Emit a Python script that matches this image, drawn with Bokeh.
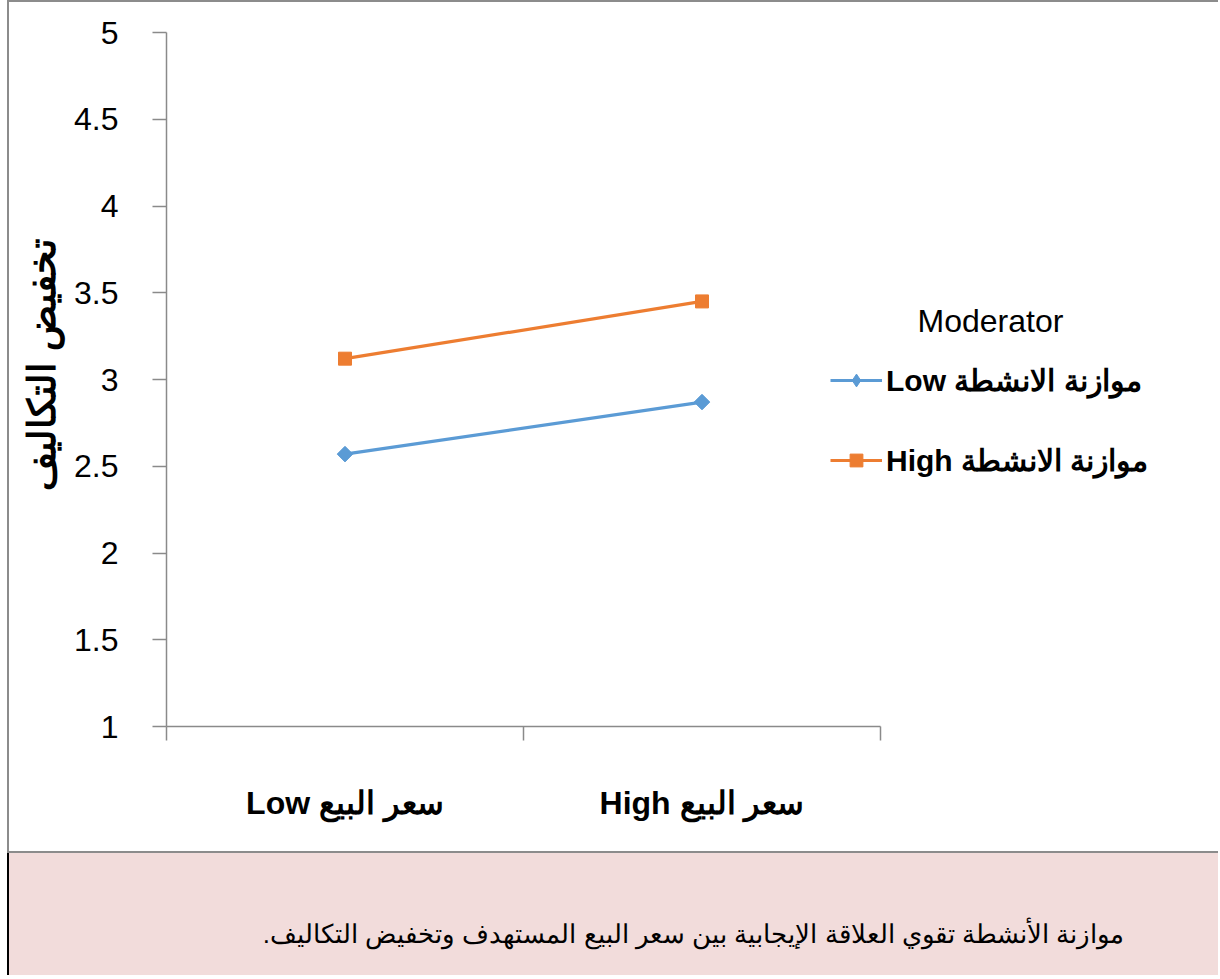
from math import pi

from bokeh.plotting import figure
from bokeh.layouts import column
from bokeh.models import (Range1d, FixedTicker, LinearAxis, Label, Legend, LegendItem)
from bokeh.embed import file_html
from bokeh.resources import INLINE

# --- data -------------------------------------------------------------
price_levels = ["سعر البيع Low", "سعر البيع High"]
series_names = ["موازنة الانشطة Low", "موازنة الانشطة High"]
low_activity = [2.57, 2.87]
high_activity = [3.12, 3.45]
y_ticks = [1, 1.5, 2, 2.5, 3, 3.5, 4, 4.5, 5]
y_tick_labels = ["1", "1.5", "2", "2.5", "3", "3.5", "4", "4.5", "5"]
y_title = "تخفيض التكاليف"
legend_title = "Moderator"
caption = "موازنة الأنشطة تقوي العلاقة الإيجابية بين سعر البيع المستهدف وتخفيض التكاليف."

BLUE = "#5B9BD5"
ORANGE = "#ED7D31"
AXIS_GREY = "#8a8a8a"
BORDER_GREY = "#8c8c8c"
PINK = "#F2DCDB"
FONT = "Liberation Sans"

RLE, PDF = "\u202B", "\u202C"   # right-to-left embedding for Arabic strings


def rtl(s):
    return RLE + s + PDF


# --- page geometry (pixels) ---------------------------------------------
W, H = 1220, 979
OX, OY = 9, 2                 # content origin of the chart panel
CHART_H = 853                 # chart panel content height
CAP_TOP = OY + CHART_H + 2    # caption panel starts below the chart border
CAP_H = H - CAP_TOP
AX_L, AX_R, AX_T, AX_B = 166, 880, 32, 726   # axis extents on the page

n = len(price_levels)
centers = [i + 0.5 for i in range(n)]
bounds = [i for i in range(n + 1)]

# the frame reaches the right and top edges of the panel so that the
# legend can sit beside the lines; axes are bounded to the data extent
px_per_x = (AX_R - AX_L) / n
px_per_y = (AX_B - AX_T) / (y_ticks[-1] - y_ticks[0])
x_end = (W - AX_L) / px_per_x
y_end = y_ticks[-1] + (AX_T - OY) / px_per_y


def sx(px):
    return px - AX_L


def sy(py):
    return AX_B - py


p = figure(width=W - OX, height=CHART_H, output_backend="svg", toolbar_location=None,
           x_range=Range1d(0, x_end), y_range=Range1d(y_ticks[0], y_end),
           x_axis_type=None, y_axis_type=None,
           min_border_left=AX_L - OX, min_border_right=0,
           min_border_top=0, min_border_bottom=CHART_H - (AX_B - OY),
           styles={"border-top": f"2px solid {BORDER_GREY}",
                   "border-left": f"2px solid {BORDER_GREY}",
                   "border-bottom": f"2px solid {BORDER_GREY}"})
p.grid.visible = False
p.outline_line_color = None
p.background_fill_color = None
p.border_fill_color = "white"

# --- axes -----------------------------------------------------------------
yaxis = LinearAxis(ticker=FixedTicker(ticks=y_ticks), bounds=(y_ticks[0], y_ticks[-1]),
                   major_label_overrides=dict(zip(y_ticks, y_tick_labels)),
                   axis_line_color=AXIS_GREY, axis_line_width=1.5,
                   major_tick_line_color=AXIS_GREY, major_tick_line_width=1.5,
                   major_tick_in=0, major_tick_out=14,
                   minor_tick_line_color=None,
                   major_label_text_font=FONT, major_label_text_font_size="32px",
                   major_label_text_color="black", major_label_standoff=34,
                   axis_label=y_title, axis_label_text_font=FONT,
                   axis_label_text_font_size="38px", axis_label_text_font_style="bold",
                   axis_label_text_color="black", axis_label_standoff=8)
p.add_layout(yaxis, "left")

xaxis = LinearAxis(ticker=FixedTicker(ticks=centers, minor_ticks=bounds), bounds=(0, n),
                   major_label_overrides={c: rtl(t) for c, t in zip(centers, price_levels)},
                   axis_line_color=AXIS_GREY, axis_line_width=1.5,
                   major_tick_line_color=None, major_tick_in=0, major_tick_out=0,
                   minor_tick_line_color=AXIS_GREY, minor_tick_line_width=1.5,
                   minor_tick_in=0, minor_tick_out=14,
                   major_label_text_font=FONT, major_label_text_font_size="32px",
                   major_label_text_font_style="bold", major_label_text_color="black",
                   major_label_standoff=44)
p.add_layout(xaxis, "below")

# --- series ------------------------------------------------------------------
l1 = p.line(centers, low_activity, line_color=BLUE, line_width=3.2)
# a narrow diamond underneath gives the legend its swatch; the rotated
# square drawn on top is the visible point marker
k1 = p.scatter(centers, low_activity, marker="diamond", size=13,
               fill_color=BLUE, line_color=BLUE)
p.scatter(centers, low_activity, marker="square", angle=pi / 4, size=11,
          fill_color=BLUE, line_color=BLUE)
l2 = p.line(centers, high_activity, line_color=ORANGE, line_width=3.2)
s2 = p.scatter(centers, high_activity, marker="square", size=13,
               fill_color=ORANGE, line_color=ORANGE)

legend = Legend(items=[LegendItem(label=rtl(series_names[0]), renderers=[l1, k1]),
                       LegendItem(label=rtl(series_names[1]), renderers=[l2, s2])],
                location=(sx(830), sy(480)),
                glyph_width=52, glyph_height=32, label_height=40, spacing=40,
                label_standoff=4, padding=0, margin=0,
                border_line_color=None, background_fill_alpha=0,
                label_text_font=FONT, label_text_font_size="30px",
                label_text_font_style="bold", label_text_color="black")
p.add_layout(legend)

p.add_layout(Label(x=sx(917), y=sy(320), x_units="screen", y_units="screen",
                   text=legend_title, text_font=FONT, text_font_size="32px",
                   text_baseline="middle", text_align="left", text_color="black"))

# --- caption panel -----------------------------------------------------------
# same left border as the chart so the column keeps both frames aligned;
# ranges are in page pixels, the pink comes from the panel's own style
c = figure(width=W - OX, height=CAP_H, output_backend="svg", toolbar_location=None,
           x_range=Range1d(AX_L, W), y_range=Range1d(H, CAP_TOP),
           x_axis_type=None, y_axis_type=None,
           min_border_left=AX_L - OX, min_border_right=0,
           min_border_top=0, min_border_bottom=0,
           styles={"border-left": "2px solid black", "background-color": PINK})
c.grid.visible = False
c.outline_line_color = None
c.background_fill_color = None
c.border_fill_color = None
c.add_layout(Label(x=693, y=937,
                   text=rtl(caption), text_font=FONT, text_font_size="26px",
                   text_baseline="middle", text_align="center", text_color="black"))

page = column(p, c, spacing=0, styles={"margin-left": f"{OX - 2}px"})

open("out.html", "w").write(file_html(page, INLINE))
